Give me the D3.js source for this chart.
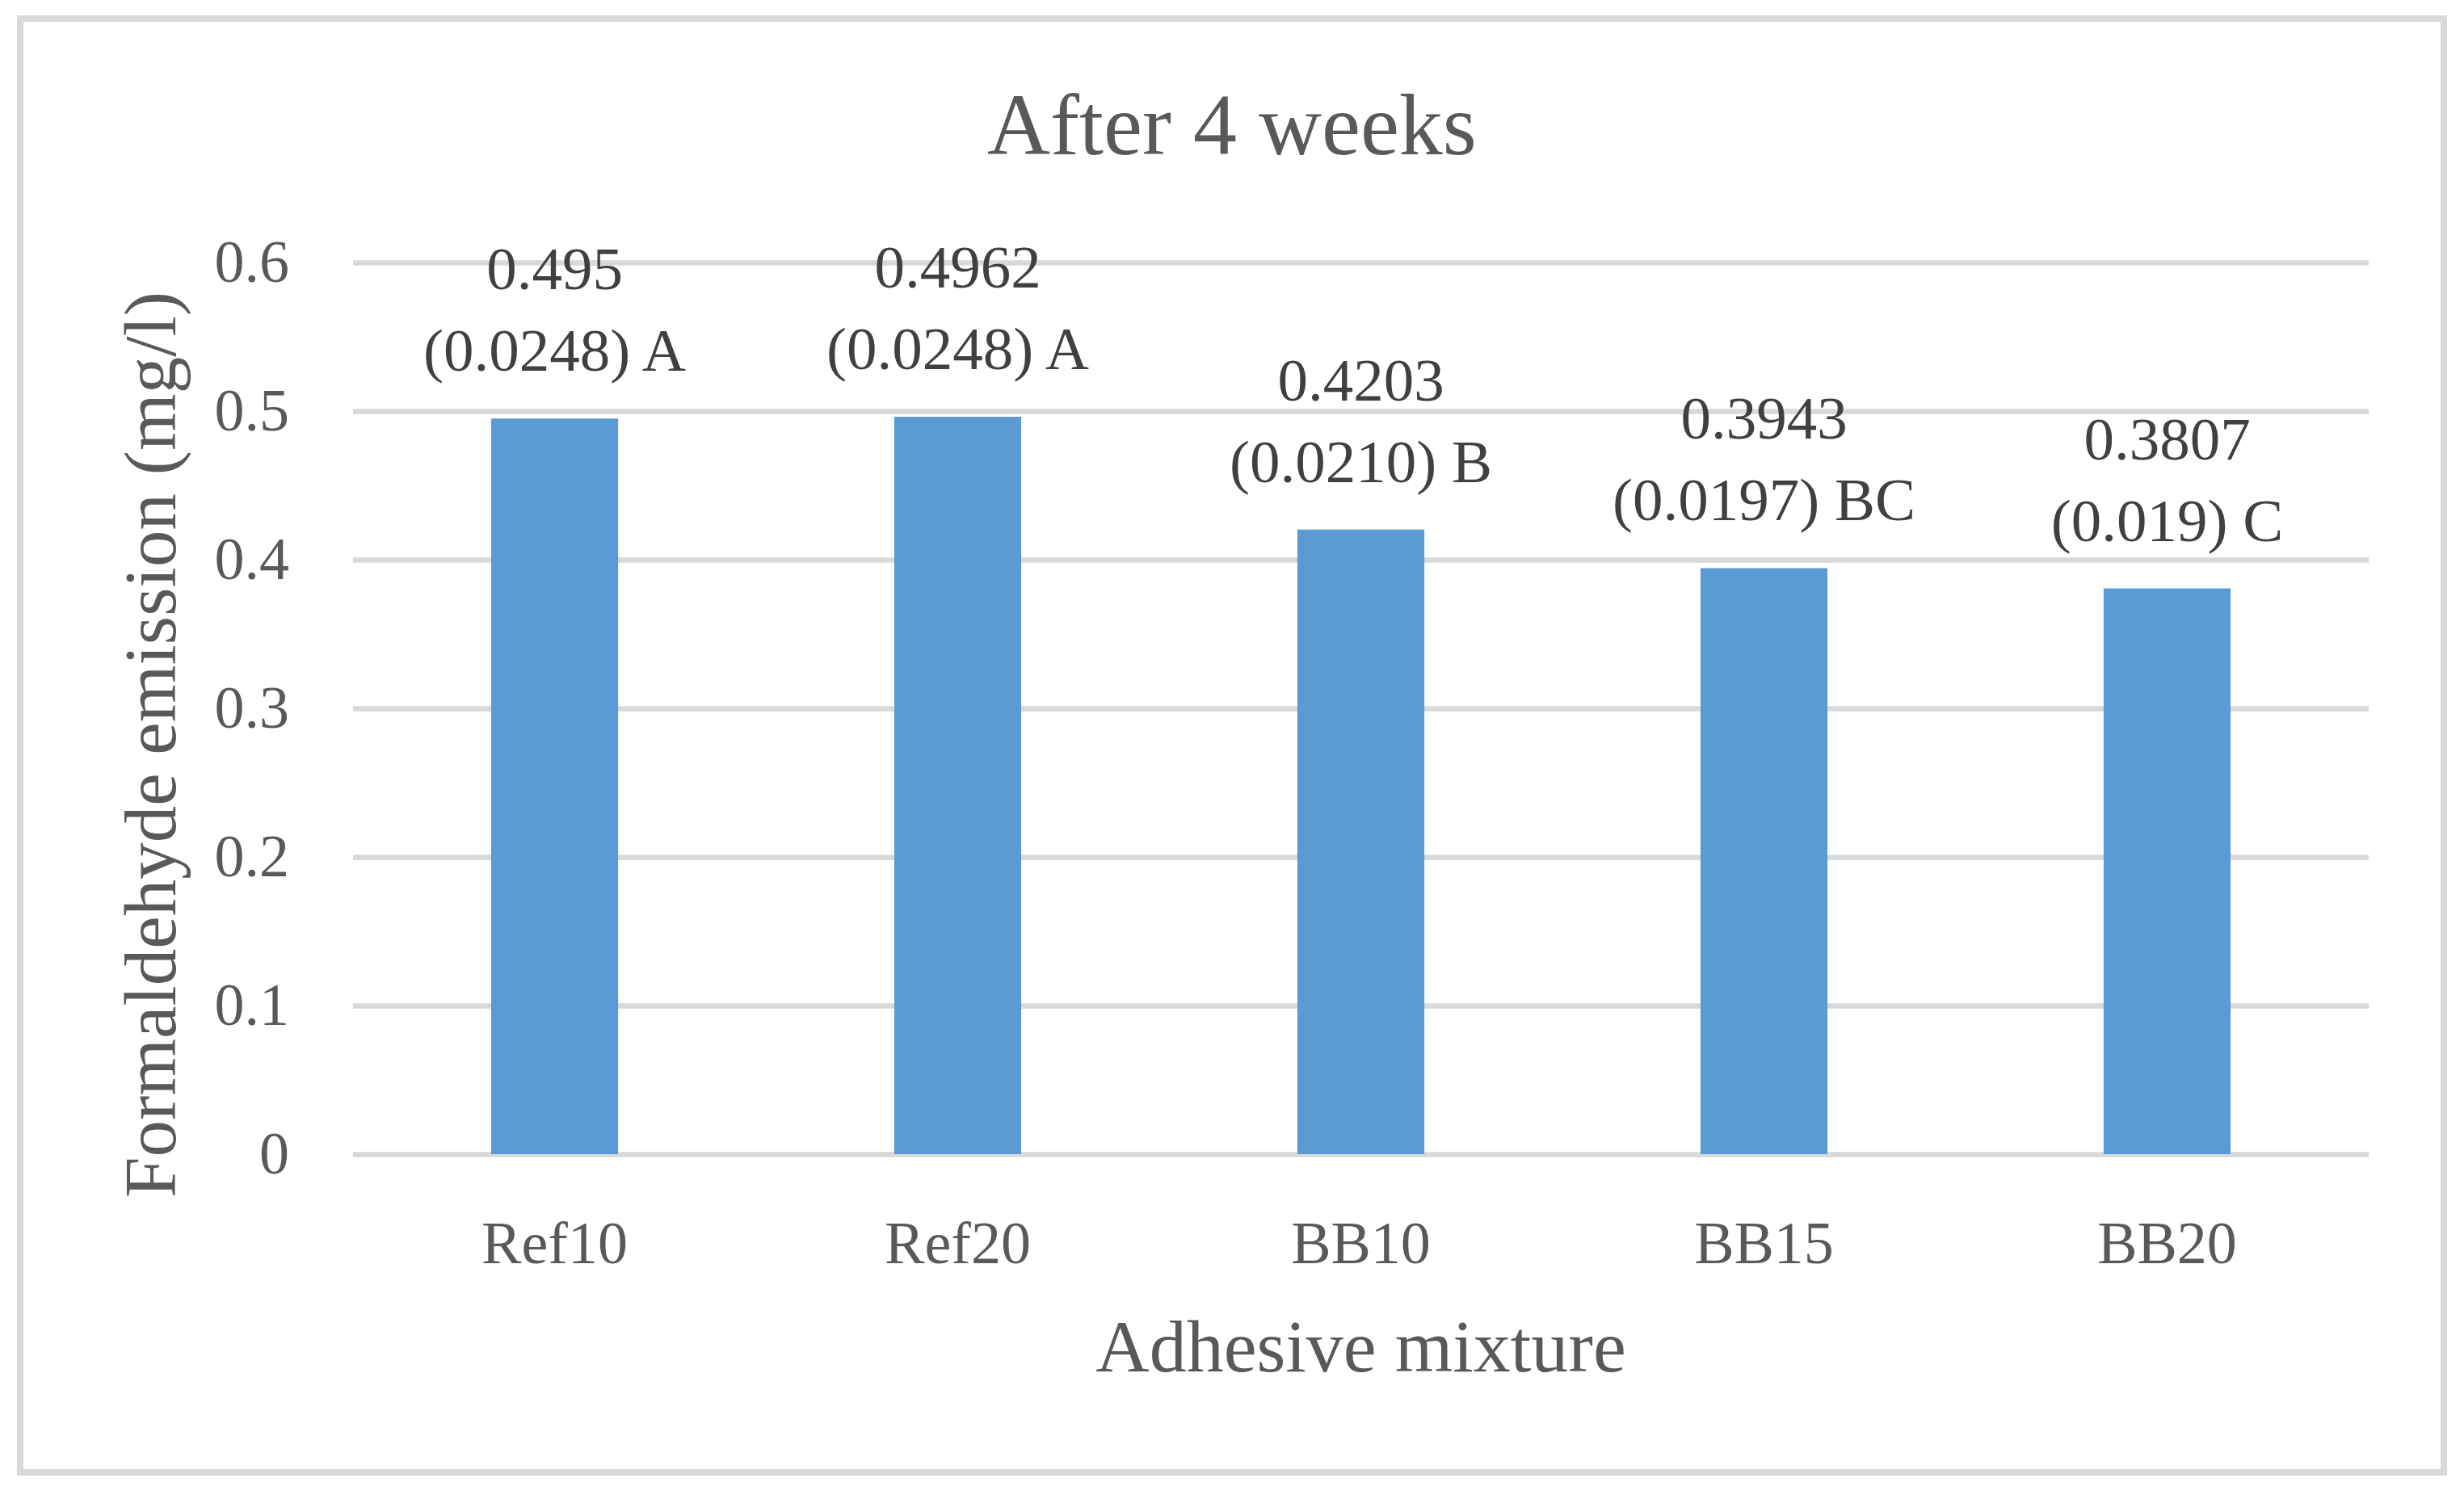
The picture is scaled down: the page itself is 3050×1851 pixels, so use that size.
<!DOCTYPE html>
<html>
<head>
<meta charset="utf-8">
<script src="https://cdn.jsdelivr.net/npm/d3@7"></script>
<style>
  body { margin: 0; background: #fff; }
  text { font-family: "Liberation Serif", "Times New Roman", serif; }
</style>
</head>
<body>
<div id="container"></div>
<script>
const categories = ["Ref10", "Ref20", "BB10", "BB15", "BB20"];
const values = [0.495, 0.4962, 0.4203, 0.3943, 0.3807];
const deviations = ["0.0248", "0.0248", "0.0210", "0.0197", "0.019"];
const groups = ["A", "A", "B", "BC", "C"];
const yTicks = [0, 0.1, 0.2, 0.3, 0.4, 0.5, 0.6];

const width = 3050;
const height = 1851;
const marginTop = 325;
const marginRight = 118;
const marginBottom = 422;
const marginLeft = 437;

const data = categories.map((c, i) => ({
  cat: c,
  value: values[i],
  sd: deviations[i],
  group: groups[i]
}));

const x = d3.scaleBand()
  .domain(categories)
  .range([marginLeft, width - marginRight])
  .paddingInner(0.685)
  .paddingOuter(0.3425);

const y = d3.scaleLinear()
  .domain([0, 0.6])
  .range([height - marginBottom, marginTop]);

const svg = d3.create("svg")
  .attr("width", width)
  .attr("height", height);

// chart border
svg.append("rect")
  .attr("x", 25)
  .attr("y", 23)
  .attr("width", 3000)
  .attr("height", 1800)
  .attr("fill", "none")
  .attr("stroke", "#d9d9d9")
  .attr("stroke-width", 8);

// y axis with gridlines
const yAxis = svg.append("g")
  .attr("transform", `translate(${marginLeft},0)`)
  .call(
    d3.axisLeft(y)
      .tickValues(yTicks)
      .tickFormat(d => d === 0 ? "0" : d3.format(".1f")(d))
      .tickSize(-(width - marginLeft - marginRight))
      .tickPadding(79)
  );
yAxis.select(".domain").remove();
yAxis.selectAll(".tick line")
  .attr("stroke", "#d9d9d9")
  .attr("stroke-width", 6.5);
yAxis.selectAll(".tick text")
  .attr("fill", "#595959")
  .attr("font-size", "74px")
  .attr("font-family", "Liberation Serif, serif");

// bars
svg.append("g")
  .attr("fill", "#5b9bd5")
  .selectAll()
  .data(data)
  .join("rect")
  .attr("x", d => x(d.cat))
  .attr("y", d => y(d.value))
  .attr("width", x.bandwidth())
  .attr("height", d => y(0) - y(d.value));

// x axis labels
const xAxis = svg.append("g")
  .attr("transform", `translate(0,${height - marginBottom})`)
  .call(d3.axisBottom(x).tickSize(0).tickPadding(82));
xAxis.select(".domain").remove();
xAxis.selectAll(".tick text")
  .attr("fill", "#595959")
  .attr("font-size", "74px")
  .attr("font-family", "Liberation Serif, serif");

// data labels
const labels = svg.append("g")
  .attr("fill", "#404040")
  .attr("font-size", "75px")
  .attr("text-anchor", "middle");

labels.selectAll()
  .data(data)
  .join("text")
  .attr("x", d => x(d.cat) + x.bandwidth() / 2)
  .attr("y", d => y(d.value) - 160)
  .text(d => d.value);

labels.selectAll()
  .data(data)
  .join("text")
  .attr("x", d => x(d.cat) + x.bandwidth() / 2)
  .attr("y", d => y(d.value) - 59)
  .text(d => `(${d.sd}) ${d.group}`);

// title
svg.append("text")
  .attr("x", 1525)
  .attr("y", 191)
  .attr("text-anchor", "middle")
  .attr("font-size", "108px")
  .attr("fill", "#595959")
  .text("After 4 weeks");

// axis titles
svg.append("text")
  .attr("x", (marginLeft + width - marginRight) / 2)
  .attr("y", 1698)
  .attr("text-anchor", "middle")
  .attr("font-size", "92px")
  .attr("fill", "#595959")
  .text("Adhesive mixture");

svg.append("text")
  .attr("transform", "translate(217,922) rotate(-90)")
  .attr("text-anchor", "middle")
  .attr("font-size", "91px")
  .attr("fill", "#595959")
  .text("Formaldehyde emission (mg/l)");

d3.select("#container").append(() => svg.node());
</script>
</body>
</html>
